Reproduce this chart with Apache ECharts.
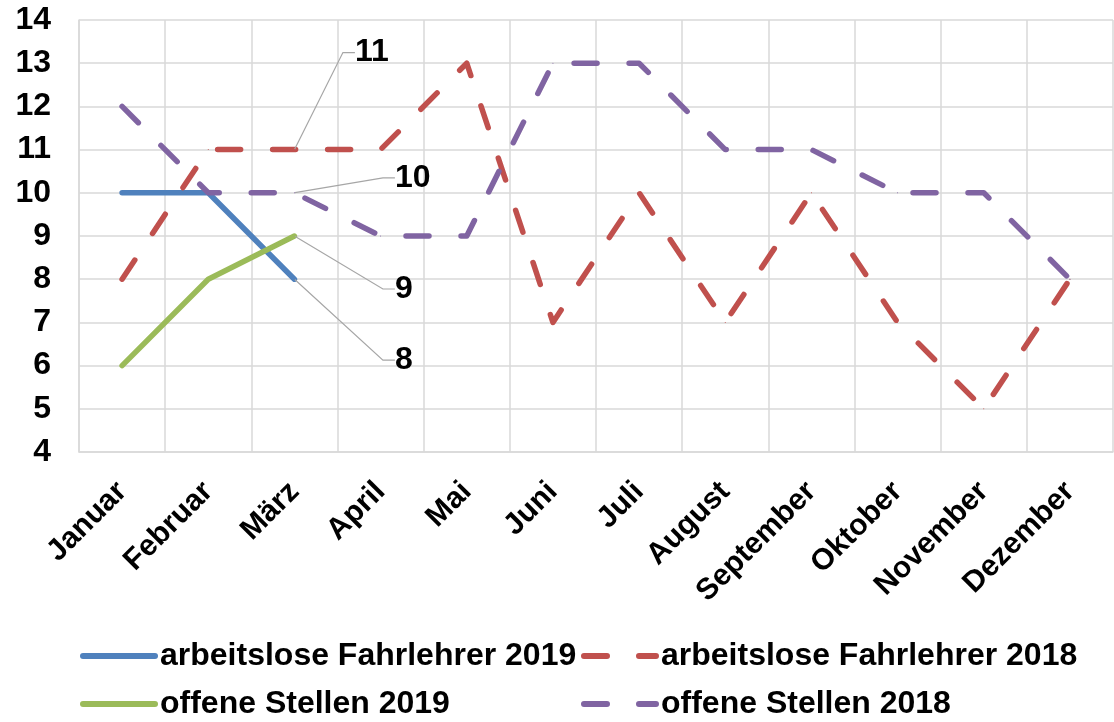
<!DOCTYPE html>
<html lang="de">
<head>
    <meta charset="utf-8">
    <title>Fahrlehrer</title>
    <script src="https://cdn.jsdelivr.net/npm/echarts@6/dist/echarts.min.js"></script>
    <style>
        html, body { margin: 0; padding: 0; background: #fff; }
        #main { width: 1114px; height: 722px; }
    </style>
</head>
<body>
<div id="main"></div>
<script type="text/javascript">
    // Monate
    var months = ['Januar', 'Februar', 'März', 'April', 'Mai', 'Juni', 'Juli',
        'August', 'September', 'Oktober', 'November', 'Dezember'];

    // Werte aus der Grafik
    var arbeitslose2019 = [10, 10, 8];
    var arbeitslose2018 = [8, 11, 11, 11, 13, 7, 10, 7, 10, 7, 5, 8];
    var offene2019 = [6, 8, 9];
    var offene2018 = [12, 10, 10, 9, 9, 13, 13, 11, 11, 10, 10, 8];

    // Beschriftete Punkte (März) und Versatz der Beschriftung
    var labelIndex = 2;
    var labelOffset = {
        'arbeitslose Fahrlehrer 2019': [100, 81],
        'arbeitslose Fahrlehrer 2018': [60, -97],
        'offene Stellen 2019': [100, 53],
        'offene Stellen 2018': [100, -15]
    };

    var font = 'Liberation Sans, Arial, sans-serif';

    function withLabel(values) {
        return values.map(function (v, i) {
            if (i !== labelIndex) return v;
            return {value: v, label: {show: true}};
        });
    }

    function makeSeries(name, values, color, dashed) {
        return {
            name: name,
            type: 'line',
            data: withLabel(values),
            symbol: 'circle',
            symbolSize: 1,
            showSymbol: true,
            itemStyle: {color: color},
            lineStyle: {
                color: color,
                width: 5.5,
                type: dashed ? [23, 32] : 'solid',
                cap: 'round',
                join: 'round'
            },
            label: {
                show: false,
                position: 'right',
                distance: 0,
                // Leerzeichen verbreitern das Feld, damit die Führungslinie links ansetzt
                formatter: function (p) { return p.value + '\u00a0\u00a0\u00a0\u00a0\u00a0'; },
                color: '#000',
                fontSize: 32,
                fontWeight: 'bold',
                fontFamily: font
            },
            labelLine: {
                show: true,
                length2: 12,
                lineStyle: {color: '#a6a6a6', width: 1.2}
            },
            labelLayout: function (params) {
                if (params.dataIndex !== labelIndex) return;
                var off = labelOffset[name];
                return {dx: off[0], dy: off[1]};
            },
            emphasis: {disabled: true},
            animation: false
        };
    }

    var legendText = {color: '#000', fontSize: 32, fontWeight: 'bold', fontFamily: font, lineHeight: 32};

    var myChart = echarts.init(document.getElementById('main'));
    var option = {
        animation: false,
        grid: {left: 79, right: 1, top: 20, bottom: 270, containLabel: false},
        legend: [
            {
                left: 80, top: 640, height: 82, orient: 'vertical', padding: 0,
                itemWidth: 72, itemHeight: 14, itemGap: 16,
                data: ['arbeitslose Fahrlehrer 2019', 'offene Stellen 2019'],
                itemStyle: {opacity: 0},
                lineStyle: {width: 6},
                textStyle: legendText
            },
            {
                left: 581, top: 640, height: 82, orient: 'vertical', padding: 0,
                itemWidth: 72, itemHeight: 14, itemGap: 16,
                data: ['arbeitslose Fahrlehrer 2018', 'offene Stellen 2018'],
                itemStyle: {opacity: 0},
                lineStyle: {width: 6},
                textStyle: legendText
            }
        ],
        xAxis: {
            type: 'category',
            data: months,
            boundaryGap: true,
            axisLine: {show: true, lineStyle: {color: '#d9d9d9', width: 1.5}},
            axisTick: {show: false},
            splitLine: {show: true, lineStyle: {color: '#d9d9d9', width: 1.5}},
            axisLabel: {
                interval: 0,
                rotate: 45,
                margin: 35,
                color: '#000',
                fontSize: 30,
                fontWeight: 'bold',
                fontFamily: font
            }
        },
        yAxis: {
            type: 'value',
            min: 4,
            max: 14,
            interval: 1,
            axisLine: {show: true, lineStyle: {color: '#d9d9d9', width: 1.5}},
            axisTick: {show: false},
            splitLine: {show: true, lineStyle: {color: '#d9d9d9', width: 1.5}},
            axisLabel: {
                margin: 28,
                color: '#000',
                fontSize: 32,
                fontWeight: 'bold',
                fontFamily: font
            }
        },
        series: [
            makeSeries('arbeitslose Fahrlehrer 2019', arbeitslose2019, '#4F81BD', false),
            makeSeries('arbeitslose Fahrlehrer 2018', arbeitslose2018, '#C0504D', true),
            makeSeries('offene Stellen 2019', offene2019, '#9BBB59', false),
            makeSeries('offene Stellen 2018', offene2018, '#8064A2', true)
        ]
    };

    myChart.setOption(option);
</script>
</body>
</html>
